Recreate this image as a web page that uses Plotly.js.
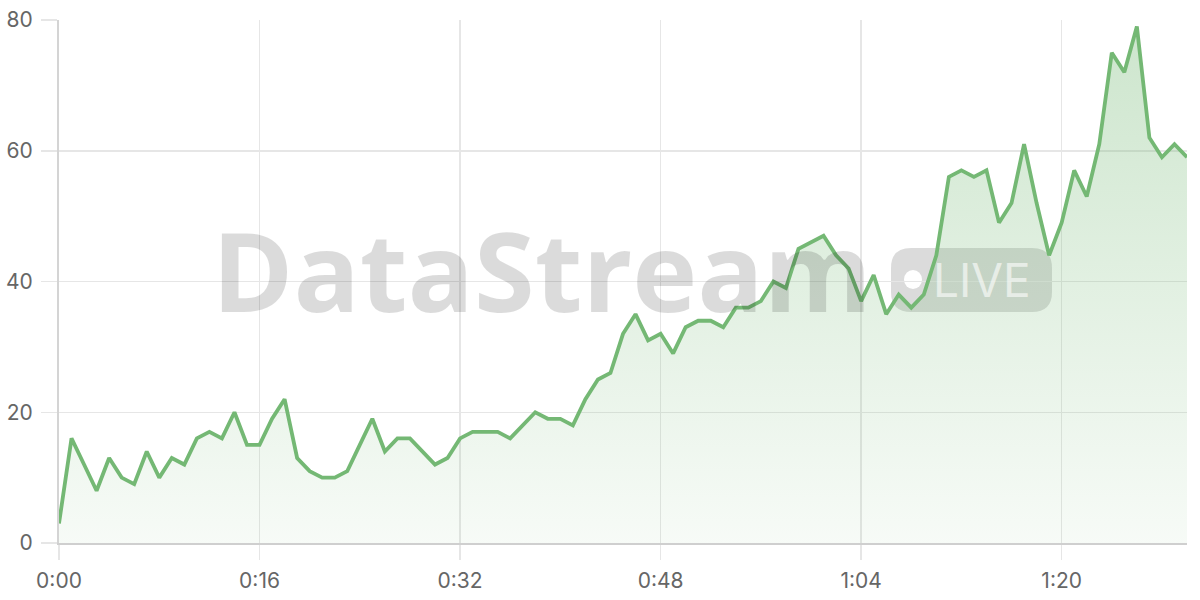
<!DOCTYPE html>
<html>
<head>
<meta charset="utf-8">
<script src="https://cdn.plot.ly/plotly-3.0.1.min.js"></script>
<style>
  html, body { margin: 0; padding: 0; background: #ffffff; }
  #chart { width: 1200px; height: 600px; }
</style>
</head>
<body>
<div id="chart"></div>
<script>
// ---- data ----
const values = [3,16,12,8,13,10,9,14,10,13,
                12,16,17,16,20,15,15,19,22,13,
                11,10,10,11,15,19,14,16,16,14,
                12,13,16,17,17,17,16,18,20,19,
                19,18,22,25,26,32,35,31,32,29,
                33,34,34,33,36,36,37,40,39,45,
                46,47,44,42,37,41,35,38,36,38,
                44,56,57,56,57,49,52,61,52,44,
                49,57,53,61,75,72,79,62,59,61,
                59];
const seconds = values.map((v, i) => i);
const xTickVals = [0, 16, 32, 48, 64, 80];
const xTickText = ['0:00', '0:16', '0:32', '0:48', '1:04', '1:20'];
const yTickVals = [0, 20, 40, 60, 80];
const watermarkText = 'DataStream';
const badgeText = 'LIVE';

// ---- helpers for the watermark (paper coordinates from pixel geometry) ----
const L = 59, R = 1187, T = 20, B = 543;
const px = x => (x - L) / (R - L);
const py = y => (B - y) / (B - T);
function roundRectPath(x0, y0, x1, y1, r) {
  const p = [
    ['M', x0 + r, y0], ['L', x1 - r, y0], ['Q', x1, y0, x1, y0 + r],
    ['L', x1, y1 - r], ['Q', x1, y1, x1 - r, y1], ['L', x0 + r, y1],
    ['Q', x0, y1, x0, y1 - r], ['L', x0, y0 + r], ['Q', x0, y0, x0 + r, y0]
  ];
  return p.map(seg => {
    const cmd = seg[0];
    const pts = [];
    for (let i = 1; i < seg.length; i += 2) pts.push(px(seg[i]).toFixed(5) + ',' + py(seg[i + 1]).toFixed(5));
    return cmd + pts.join(' ');
  }).join(' ') + ' Z';
}

const green = '#74b874';

const trace = {
  x: seconds,
  y: values,
  type: 'scatter',
  mode: 'lines',
  line: { color: green, width: 3.8, shape: 'linear' },
  fill: 'tozeroy',
  fillgradient: {
    type: 'vertical',
    colorscale: [[0, 'rgba(116,184,116,0.06)'], [1, 'rgba(116,184,116,0.36)']]
  },
  hoverinfo: 'x+y'
};

const tickFont = { family: 'Inter, "Open Sans", sans-serif', size: 21, color: '#666666' };

const layout = {
  width: 1200,
  height: 600,
  margin: { l: L, r: 1200 - R, t: T, b: 600 - B },
  paper_bgcolor: '#ffffff',
  plot_bgcolor: '#ffffff',
  showlegend: false,
  xaxis: {
    range: [0, 90],
    tickmode: 'array',
    tickvals: xTickVals,
    ticktext: xTickText,
    ticks: 'outside',
    ticklen: 15,
    tickwidth: 1.5,
    tickcolor: '#e6e6e6',
    showgrid: true,
    gridcolor: '#e6e6e6',
    gridwidth: 1.5,
    showline: true,
    linecolor: '#cfcfcf',
    linewidth: 2,
    zeroline: false,
    tickfont: tickFont,
    ticklabelstandoff: 3,
    fixedrange: true
  },
  yaxis: {
    range: [0, 80],
    tickmode: 'array',
    tickvals: yTickVals,
    ticks: 'outside',
    ticklen: 16,
    tickwidth: 1.5,
    tickcolor: '#e6e6e6',
    showgrid: true,
    gridcolor: '#e6e6e6',
    gridwidth: 1.5,
    showline: true,
    linecolor: '#d4d4d4',
    linewidth: 2,
    zeroline: false,
    tickfont: tickFont,
    ticklabelstandoff: 4,
    fixedrange: true
  },
  shapes: [
    {
      type: 'path', xref: 'paper', yref: 'paper', layer: 'between',
      path: roundRectPath(891, 248, 1052, 312, 20),
      fillcolor: 'rgba(0,0,0,0.14)', line: { width: 0 }
    },
    {
      type: 'circle', xref: 'paper', yref: 'paper', layer: 'between',
      x0: px(904), x1: px(922), y0: py(289), y1: py(270),
      fillcolor: '#ffffff', line: { width: 0 }
    }
  ],
  annotations: [
    {
      text: watermarkText, xref: 'paper', yref: 'paper',
      x: px(542), y: py(269), xanchor: 'center', yanchor: 'middle',
      showarrow: false,
      font: { family: '"Open Sans", sans-serif', size: 110, weight: 700, color: 'rgba(0,0,0,0.14)' }
    },
    {
      text: badgeText, xref: 'paper', yref: 'paper',
      x: px(982), y: py(280), xanchor: 'center', yanchor: 'middle',
      showarrow: false,
      font: { family: 'Inter, sans-serif', size: 46, weight: 400, color: 'rgba(255,255,255,0.6)' }
    }
  ]
};

Plotly.newPlot('chart', [trace], layout, { displayModeBar: false, staticPlot: true });
</script>
</body>
</html>
